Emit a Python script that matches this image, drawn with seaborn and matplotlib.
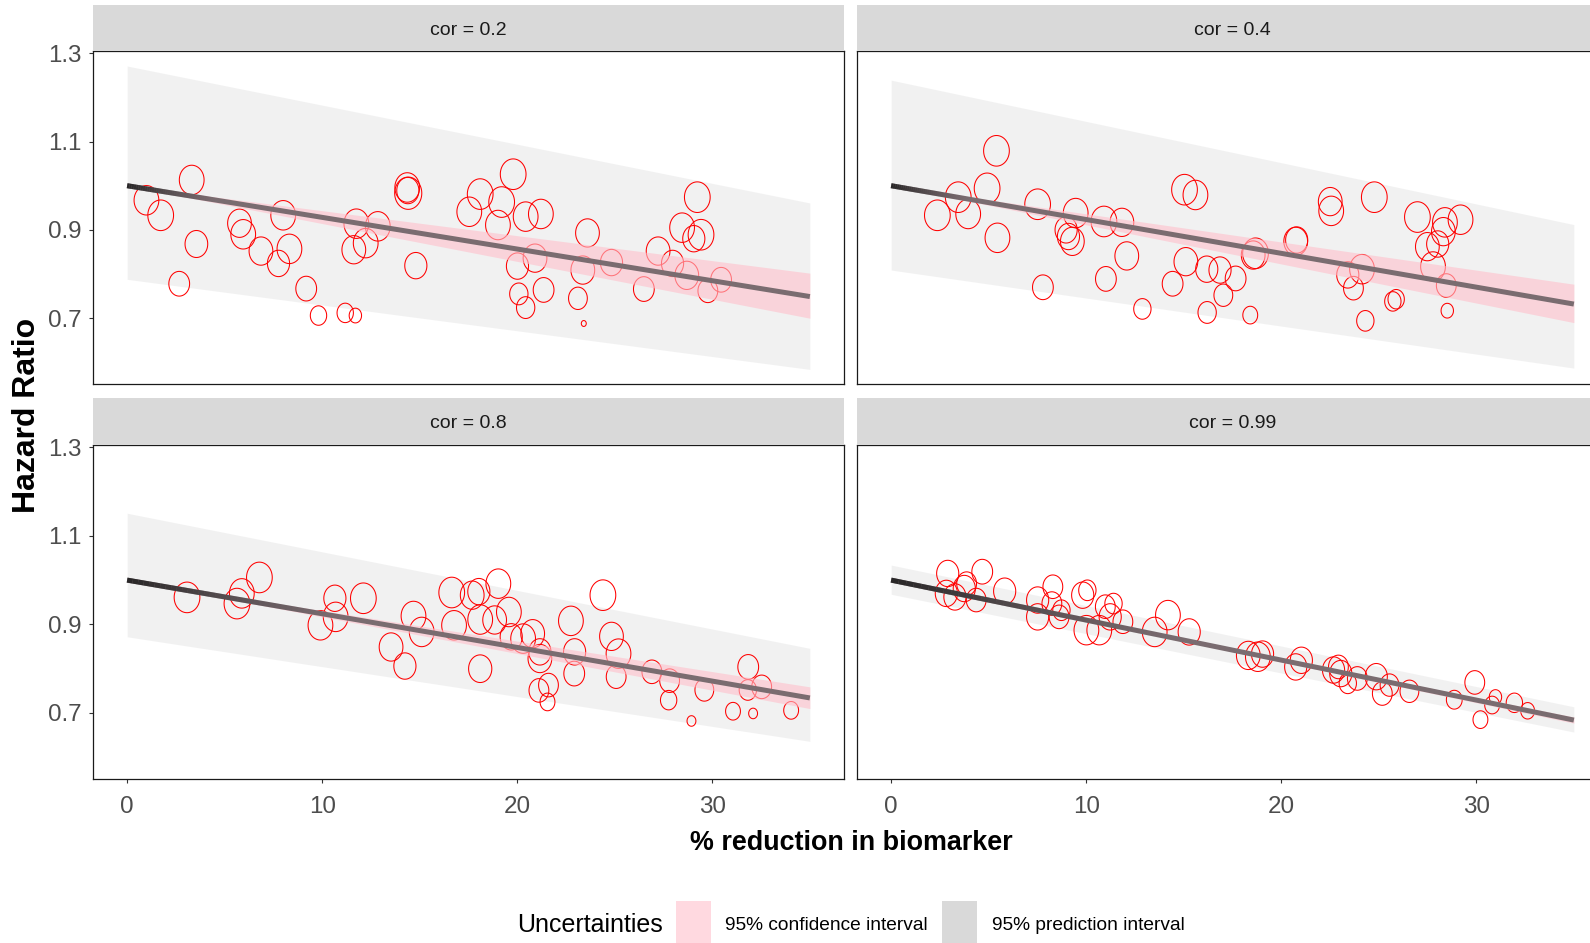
import numpy as np
import pandas as pd
import matplotlib
matplotlib.use("Agg")
import matplotlib.pyplot as plt
import seaborn as sns
from matplotlib.path import Path
from matplotlib.collections import LineCollection
from matplotlib.patches import Rectangle

sns.set_theme(style="white")
REG = "Liberation Sans"
plt.rcParams['font.family'] = [REG, 'DejaVu Sans']

# ---------------- data ----------------
panel_titles = ["cor = 0.2", "cor = 0.4", "cor = 0.8", "cor = 0.99"]
x_ticks = [0, 10, 20, 30]
y_ticks = [0.7, 0.9, 1.1, 1.3]

# study-level points: % reduction, hazard ratio, weight
p1_x = [0.99, 1.72, 3.31, 3.55, 2.67, 5.76, 5.95, 6.86, 8.0, 8.32, 7.76, 9.18, 9.81, 11.18, 11.70, 11.75, 12.85,
        12.23, 11.62, 14.36, 14.39, 14.41, 14.80, 17.54, 18.10, 19.79, 19.20, 19.01, 20.43, 21.21, 20.01, 20.91,
        20.08, 20.43, 21.35, 23.60, 23.36, 23.11, 23.41, 24.83, 26.49, 27.22, 27.96, 28.45, 29.23, 29.42, 29.05,
        28.69, 29.77, 30.45]
p1_hr = [0.967, 0.933, 1.013, 0.868, 0.778, 0.915, 0.890, 0.852, 0.933, 0.857, 0.824, 0.767, 0.706, 0.712, 0.706,
         0.914, 0.908, 0.870, 0.855, 0.996, 0.989, 0.983, 0.819, 0.941, 0.981, 1.026, 0.963, 0.911, 0.930, 0.936,
         0.818, 0.836, 0.755, 0.724, 0.764, 0.893, 0.809, 0.745, 0.688, 0.826, 0.766, 0.852, 0.824, 0.905, 0.974,
         0.889, 0.880, 0.797, 0.762, 0.787]
p1_w = [25, 27, 25, 21, 17.6, 23, 25, 23, 25, 25, 20, 17.6, 10.9, 10.9, 6.25, 25, 25, 25, 23, 25, 20, 30, 20, 25,
        27, 27, 27, 25, 25, 25, 20, 23, 13.7, 13.7, 17.6, 23, 23, 14.4, 1, 20, 17.6, 23, 20, 25, 27, 27, 20, 23, 16,
        17.6]

p2_x = [2.37, 3.44, 3.95, 4.92, 5.40, 5.45, 7.51, 7.78, 9.46, 8.97, 9.09, 9.29, 10.91, 11.83, 12.08, 11.01, 12.88,
        15.04, 15.60, 15.11, 14.43, 16.18, 16.86, 17.66, 17.03, 16.20, 18.41, 18.56, 18.68, 20.74, 20.79, 22.51,
        22.56, 24.77, 23.41, 23.70, 24.14, 24.31, 25.72, 25.89, 26.98, 27.49, 28.02, 28.31, 28.39, 29.19, 27.78,
        28.46, 28.51]
p2_hr = [0.933, 0.974, 0.936, 0.994, 1.079, 0.882, 0.958, 0.770, 0.938, 0.900, 0.885, 0.874, 0.919, 0.917, 0.841,
         0.789, 0.721, 0.991, 0.979, 0.828, 0.778, 0.811, 0.809, 0.790, 0.752, 0.713, 0.707, 0.843, 0.847, 0.874,
         0.877, 0.964, 0.943, 0.974, 0.798, 0.768, 0.811, 0.694, 0.738, 0.743, 0.929, 0.862, 0.868, 0.896, 0.917,
         0.923, 0.817, 0.774, 0.717]
p2_w = [27, 27, 25, 27, 27, 25, 27, 17.6, 25, 20, 20, 23, 27, 23, 23, 17.6, 12.25, 27, 25, 23, 17.6, 20, 20, 17.6,
        14.4, 13.7, 9, 23, 27, 23, 20, 23, 25, 27, 20, 16, 25, 12.25, 10.9, 10.9, 27, 23, 20, 23, 25, 25, 25, 16,
        6.25]

p3_x = [3.07, 5.63, 5.88, 6.78, 9.91, 10.65, 10.69, 12.11, 13.53, 14.24, 14.68, 15.10, 16.64, 16.76, 17.69, 18.03,
        19.03, 18.10, 18.10, 18.84, 19.57, 19.69, 20.30, 20.79, 21.16, 21.16, 21.11, 21.60, 21.55, 22.75, 22.94,
        22.92, 24.39, 24.83, 25.19, 25.07, 26.90, 27.81, 27.76, 29.59, 28.93, 31.06, 31.84, 31.82, 32.53, 32.09,
        34.04]
p3_hr = [0.961, 0.947, 0.970, 1.006, 0.898, 0.959, 0.917, 0.959, 0.849, 0.806, 0.919, 0.883, 0.972, 0.898, 0.966,
         0.974, 0.992, 0.800, 0.911, 0.910, 0.928, 0.872, 0.868, 0.879, 0.823, 0.838, 0.751, 0.763, 0.725, 0.908,
         0.838, 0.789, 0.966, 0.873, 0.834, 0.782, 0.793, 0.773, 0.729, 0.752, 0.682, 0.704, 0.804, 0.752, 0.759,
         0.699, 0.706]
p3_w = [27, 27, 25, 27, 25, 20, 25, 27, 23, 20, 25, 25, 27, 25, 23, 20, 25, 22, 25, 23, 25, 20, 25, 23, 23, 20, 16,
        16, 9, 25, 20, 17.6, 27, 23, 25, 16, 16, 16, 10.9, 14.4, 3.2, 9, 17.6, 12.25, 16, 3.2, 9]

p4_x = [2.90, 2.83, 3.27, 3.75, 3.87, 4.67, 4.36, 5.82, 7.51, 7.51, 8.29, 8.24, 8.61, 8.73, 9.82, 10.06, 10.01,
        10.67, 10.98, 11.40, 11.23, 11.88, 14.19, 13.51, 15.28, 18.31, 18.80, 19.04, 20.74, 21.03, 22.68, 22.93,
        23.05, 23.41, 23.90, 24.87, 25.18, 25.55, 26.57, 28.87, 29.92, 30.21, 30.81, 30.98, 31.95, 32.63]
p4_hr = [1.015, 0.970, 0.962, 0.981, 0.992, 1.019, 0.955, 0.975, 0.955, 0.917, 0.985, 0.947, 0.917, 0.932, 0.966,
         0.977, 0.887, 0.887, 0.940, 0.947, 0.917, 0.906, 0.921, 0.883, 0.883, 0.830, 0.827, 0.833, 0.804, 0.819,
         0.797, 0.804, 0.789, 0.767, 0.778, 0.782, 0.744, 0.763, 0.749, 0.730, 0.769, 0.685, 0.718, 0.736, 0.723,
         0.705]
p4_w = [20, 20, 20, 20, 16, 17.6, 16, 20, 20, 20, 16, 16, 16, 12.25, 20, 12.25, 25, 25, 16, 12.25, 20, 16, 25, 25,
        20, 23, 25, 20, 20, 20, 20, 16, 20, 12.25, 16, 20, 16, 14.4, 14.4, 10.2, 16, 9, 9, 6.25, 10.9, 7.8]

# fitted line, 95% confidence and prediction intervals at x = 0 and x = 35
fit_x = [0, 35]
p1_fit, p1_ci_lo, p1_ci_hi, p1_pi_lo, p1_pi_hi = [1.0, 0.749], [1.0, 0.700], [1.0, 0.802], [0.788, 0.584], [1.271, 0.961]
p2_fit, p2_ci_lo, p2_ci_hi, p2_pi_lo, p2_pi_hi = [1.0, 0.732], [1.0, 0.690], [1.0, 0.777], [0.809, 0.587], [1.239, 0.912]
p3_fit, p3_ci_lo, p3_ci_hi, p3_pi_lo, p3_pi_hi = [1.0, 0.734], [1.0, 0.710], [1.0, 0.759], [0.872, 0.636], [1.151, 0.846]
p4_fit, p4_ci_lo, p4_ci_hi, p4_pi_lo, p4_pi_hi = [1.0, 0.684], [1.0, 0.677], [1.0, 0.691], [0.968, 0.657], [1.034, 0.714]

legend_title = "Uncertainties"
legend_labels = ["95% confidence interval", "95% prediction interval"]
x_title = "% reduction in biomarker"
y_title = "Hazard Ratio"

# ---------------- styling ----------------
W, H = 1590, 943
fig = plt.figure(figsize=(W / 100, H / 100), dpi=100)
fig.patch.set_facecolor("white")

def fx(px):
    return px / W

def fy(py):
    return 1 - py / H

# panel rects in pixel coords: (left, top, right, bottom)
panel_px = [(93, 51, 844, 384), (857, 51, 1608, 384), (93, 445, 844, 779), (857, 445, 1608, 779)]
strip_px = [(93, 5, 844, 51), (857, 5, 1608, 51), (93, 398, 844, 445), (857, 398, 1608, 445)]
dark_len = [4.5, 4.0, 11.0, 15.0]

theta = np.linspace(0, 2 * np.pi, 80)
ellipse = Path(np.column_stack([0.84 * np.cos(theta), np.sin(theta)]), closed=True)

WMAX = 36.0
SMAX = 18.0 * WMAX

TICK_FS = 17.4

panels = [
    (p1_x, p1_hr, p1_w, p1_fit, p1_ci_lo, p1_ci_hi, p1_pi_lo, p1_pi_hi),
    (p2_x, p2_hr, p2_w, p2_fit, p2_ci_lo, p2_ci_hi, p2_pi_lo, p2_pi_hi),
    (p3_x, p3_hr, p3_w, p3_fit, p3_ci_lo, p3_ci_hi, p3_pi_lo, p3_pi_hi),
    (p4_x, p4_hr, p4_w, p4_fit, p4_ci_lo, p4_ci_hi, p4_pi_lo, p4_pi_hi),
]

for i, (xs, hrs, ws, fit, cil, cih, pil, pih) in enumerate(panels):
    l, t, r, b = panel_px[i]
    ax = fig.add_axes([fx(l), fy(b), fx(r - l), (b - t) / H])
    ax.set_facecolor("white")
    # prediction interval
    ax.fill_between(fit_x, pil, pih, color="#D9D9D9", alpha=0.35, lw=0, zorder=1)
    df = pd.DataFrame({"x": xs, "hr": hrs, "w": ws})
    sns.scatterplot(data=df, x="x", y="hr", size="w", sizes=(0, SMAX), size_norm=(0, WMAX),
                    marker=ellipse, legend=False, ax=ax, linewidth=0.75, zorder=2)
    pts = ax.collections[-1]
    pts.set_facecolor("none")
    pts.set_edgecolor("#FF0000")
    # confidence interval
    ax.fill_between(fit_x, cil, cih, color="#FFC0CB", alpha=0.6, lw=0, zorder=3)
    # fitted line
    sns.lineplot(x=fit_x, y=fit, color="#7A6C70", lw=3.6, ax=ax, zorder=4)
    for ln in ax.lines:
        ln.set_solid_capstyle("butt")
    # darker start of the line
    L = dark_len[i]
    gx = np.linspace(fit_x[0], L, 40)
    gy = np.interp(gx, fit_x, fit)
    segs = np.stack([np.column_stack([gx[:-1], gy[:-1]]), np.column_stack([gx[1:], gy[1:]])], axis=1)
    tt = (gx[:-1] + gx[1:]) / 2 / L
    cols = np.zeros((len(tt), 4))
    cols[:, :3] = 0.12
    cols[:, 3] = np.clip(1 - tt, 0, 1) ** 1.3 * 0.9
    lc = LineCollection(segs, colors=cols, linewidths=3.6, capstyle="butt", zorder=5)
    ax.add_collection(lc)

    ax.set_xlim(-1.75, 36.75)
    ax.set_ylim(0.551, 1.305)
    ax.set_xlabel("")
    ax.set_ylabel("")
    ax.set_xticks(x_ticks)
    ax.set_yticks(y_ticks)
    ax.set_xticklabels([str(v) for v in x_ticks])
    ax.set_yticklabels([f"{v:.1f}" for v in y_ticks])
    for sp in ax.spines.values():
        sp.set_visible(True)
        sp.set_color("#1A1A1A")
        sp.set_linewidth(0.9)
    bottom_row = i >= 2
    left_col = i % 2 == 0
    ax.tick_params(axis="x", bottom=bottom_row, labelbottom=bottom_row, length=3, width=0.8,
                   color="#333333", labelcolor="#4D4D4D", labelsize=TICK_FS, pad=9.5)
    ax.tick_params(axis="y", left=left_col, labelleft=left_col, length=3, width=0.8,
                   color="#333333", labelcolor="#4D4D4D", labelsize=TICK_FS, pad=5.5)
    ax.grid(False)

    # strip
    sl, st, sr, sb = strip_px[i]
    sax = fig.add_axes([fx(sl), fy(sb), fx(sr - sl), (sb - st) / H])
    sax.set_facecolor("#D9D9D9")
    sax.set_xticks([])
    sax.set_yticks([])
    for sp in sax.spines.values():
        sp.set_visible(False)
    sax.text(0.5, 0.45, panel_titles[i], transform=sax.transAxes, ha="center", va="center",
             fontsize=14, color="#1A1A1A")

# axis titles
fig.text(fx(851), fy(843), x_title, ha="center", va="center", fontsize=19.4, fontweight="bold", color="black")
fig.text(fx(27.5), fy(415), y_title, ha="center", va="center", rotation=90, fontsize=23,
         fontweight="bold", color="black")

# legend
fig.text(fx(517), fy(925), legend_title, ha="left", va="center", fontsize=18, color="black")
fig.patches.append(Rectangle((fx(676), fy(943)), fx(35), 42 / H, transform=fig.transFigure,
                             facecolor="#FFD9E0", edgecolor="none"))
fig.text(fx(725), fy(925), legend_labels[0], ha="left", va="center", fontsize=13.8, color="black")
fig.patches.append(Rectangle((fx(942), fy(943)), fx(35), 42 / H, transform=fig.transFigure,
                             facecolor="#D9D9D9", edgecolor="none"))
fig.text(fx(992), fy(925), legend_labels[1], ha="left", va="center", fontsize=13.8, color="black")

fig.savefig("out.png", dpi=100, facecolor="white")
